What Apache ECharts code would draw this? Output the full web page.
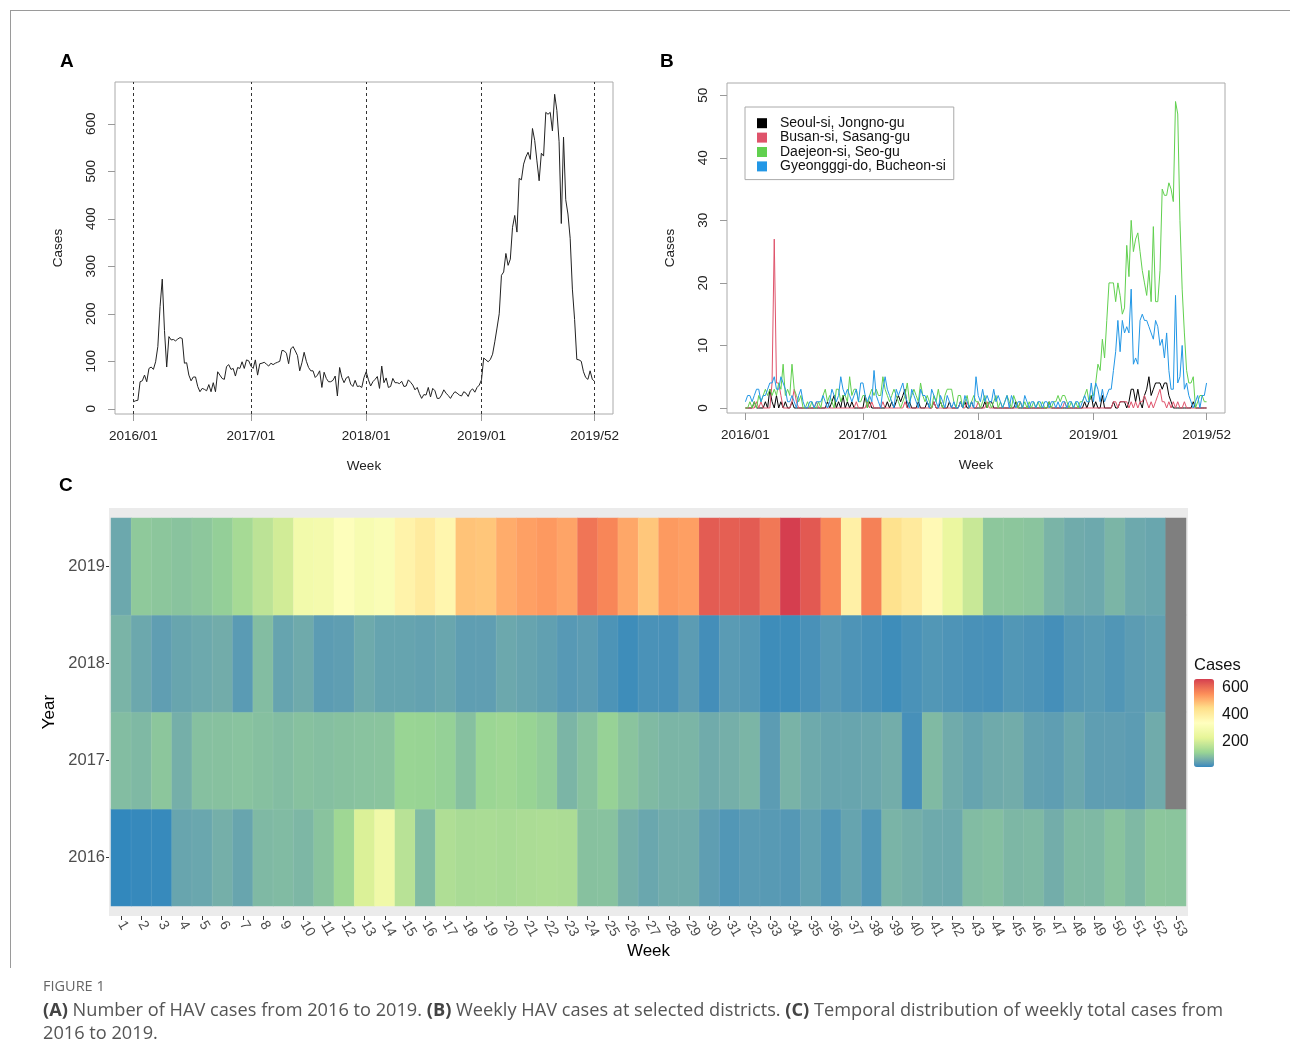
<!DOCTYPE html>
<html><head><meta charset="utf-8">
<script src="https://cdn.jsdelivr.net/npm/echarts@6/dist/echarts.min.js"></script>
<style>html,body{margin:0;padding:0;background:#fff}#c{width:1290px;height:1062px}</style>
</head><body><div id="c"></div>
<script>
// ---------------- DATA ----------------
const years = ['2016', '2017', '2018', '2019'];
const weeks = ['1','2','3','4','5','6','7','8','9','10','11','12','13','14','15','16','17','18','19','20',
  '21','22','23','24','25','26','27','28','29','30','31','32','33','34','35','36','37','38','39','40',
  '41','42','43','44','45','46','47','48','49','50','51','52','53'];

// weekly total HAV cases (panel A and heatmap C)
const cases2016 = [15,17,18,57,59,71,57,85,88,83,99,131,215,273,165,88,152,145,146,143,147,150,148,96,97,71,59,67,67,47,36,43,41,38,51,36,55,36,78,71,64,62,89,93,83,85,69,87,85,99,85,103,101];
const cases2017 = [90,85,103,71,95,96,98,94,90,96,93,96,98,100,123,122,117,95,126,131,122,112,80,97,119,100,87,80,80,66,71,80,45,77,64,57,57,60,69,27,87,66,55,65,68,52,47,60,47,48,45,66];
const cases2018 = [78,61,48,57,62,68,43,90,55,65,45,47,64,55,55,53,58,47,48,61,56,50,40,45,32,22,30,29,45,25,43,38,22,22,29,40,33,28,22,30,36,33,29,27,36,33,26,38,42,35,45,50];
const cases2019 = [61,107,103,99,104,115,141,170,200,281,288,327,302,315,382,407,372,485,482,515,530,540,525,590,565,522,480,538,532,624,620,624,585,662,628,562,390,572,440,410,359,252,188,104,103,100,78,66,62,80,62,58];

// weekly cases at selected districts (panel B)
const seoul2016 = [0,0,0,0,1,0,0,0,0,1,0,3,1,0,2,0,1,0,1,0,0,1,0,0,0,0,0,0,0,0,0,0,0,0,0,0,0,1,0,1,2,0,1,0,2,0,1,0,1,0,0,0,0];
const seoul2017 = [0,2,0,1,0,0,0,0,0,0,0,1,0,1,0,1,2,1,2,3,0,1,0,0,0,1,0,0,0,1,0,0,1,0,0,1,0,0,0,1,0,0,0,0,1,0,1,0,0,1,0,0];
const seoul2018 = [0,0,0,1,0,1,1,0,0,0,0,0,0,0,0,0,0,1,0,0,0,0,0,0,0,0,0,0,0,0,0,0,1,0,0,0,0,0,0,0,0,0,0,0,0,0,0,0,1,0,1,2];
const seoul2019 = [0,1,0,0,2,0,0,0,0,1,0,0,1,1,1,0,1,3,3,1,3,1,0,2,3,5,2,3,4,4,4,3,4,4,2,1,0,0,0,0,0,0,0,0,0,1,0,0,0,0,0,0];

const busan2016 = [0,0,0,0,0,1,0,1,0,0,0,0,4,27,4,4,2,0,0,0,0,1,3,1,0,0,0,0,0,0,0,0,1,0,0,0,0,0,0,0,0,0,0,0,0,0,0,0,0,0,1,0,0];
const busan2017 = [0,0,1,0,1,0,0,0,0,1,0,0,0,0,0,0,0,0,0,1,0,0,0,0,0,0,0,0,0,0,0,0,1,0,0,0,0,0,0,0,0,0,0,0,1,0,0,1,0,0,0,0];
const busan2018 = [1,0,0,0,1,0,0,0,0,0,0,0,0,0,0,0,0,0,0,1,0,0,0,0,0,0,0,0,0,0,0,0,0,0,0,0,0,0,0,1,0,0,0,0,0,0,0,0,0,0,0,0];
const busan2019 = [0,0,0,0,0,0,0,0,0,1,1,0,1,1,1,1,0,1,0,1,0,1,1,2,1,0,1,0,1,2,3,1,1,0,1,0,1,0,1,0,0,1,0,0,0,0,0,0,0,0,0,0];

const daejeon2016 = [0,0,1,0,1,0,2,1,2,3,2,3,2,3,2,4,3,7,2,3,2,7,3,2,1,2,0,0,1,0,1,0,0,1,0,2,3,1,2,1,0,3,3,1,2,2,1,5,2,3,3,1,1];
const daejeon2017 = [2,2,0,2,3,2,3,2,2,5,3,2,1,2,3,2,1,0,1,2,4,1,2,3,2,1,4,2,1,2,1,0,2,1,3,1,0,2,3,3,3,1,0,2,2,0,1,2,0,1,2,1];
const daejeon2018 = [1,0,1,2,0,1,0,1,2,0,1,0,1,2,1,0,2,1,0,1,0,1,0,1,0,1,0,1,0,1,0,0,1,0,1,1,2,1,2,2,1,0,1,0,1,0,1,1,2,3,1,2];
const daejeon2019 = [2,4,7,6,11,8,14,20,20,20,17,20,18,15,16,26,21,30,25,27,28,25,22,20,18,22,17,29,17,17,22,35,34,34,36,35,33,49,47,30,19,12,6,4,4,5,0,1,2,2,1,1];

const bucheon2016 = [1,2,2,1,2,3,3,1,2,2,3,4,4,5,3,3,5,4,3,1,1,2,1,0,2,3,1,0,0,1,1,0,1,1,1,2,1,0,1,3,2,1,2,5,3,2,3,2,1,2,3,1,4];
const bucheon2017 = [4,2,1,2,1,6,2,1,0,3,5,3,2,1,0,3,2,3,4,2,1,0,3,2,1,0,3,2,2,1,0,3,2,1,0,2,1,0,2,1,0,1,0,0,1,0,2,1,0,1,0,5];
const bucheon2018 = [2,1,3,1,2,1,1,3,1,2,1,0,1,2,0,2,1,0,1,1,0,2,1,0,1,1,0,1,1,0,1,1,0,1,1,0,1,0,1,1,0,1,1,0,1,1,0,1,2,1,1,4];
const bucheon2019 = [1,4,3,1,3,1,2,3,3,6,9,14,9,14,12,13,12,19,7,8,7,14,15,14,14,13,12,11,14,13,10,11,8,12,6,3,3,18,4,5,10,3,4,2,1,0,1,2,0,2,2,4];

const districtNames = ['Seoul-si, Jongno-gu', 'Busan-si, Sasang-gu', 'Daejeon-si, Seo-gu', 'Gyeongggi-do, Bucheon-si'];
const districtColors = ['#000000', '#DF536B', '#61D04F', '#2297E6'];

// tick labels
const timeTickIdx = [0, 53, 105, 157, 208];
const timeTickLabels = ['2016/01', '2017/01', '2018/01', '2019/01', '2019/52'];
const casesTicks = [0, 100, 200, 300, 400, 500, 600];
const districtTicks = [0, 10, 20, 30, 40, 50];
const legendTicks = [200, 400, 600];
const spectral7 = ['#3288BD', '#99D594', '#E6F598', '#FFFFBF', '#FEE08B', '#FC8D59', '#D53E4F'];

// ---------------- BUILD ----------------
const yearCases = [cases2016, cases2017, cases2018, cases2019];
const allCases = [].concat(...yearCases);
const seoul = [].concat(seoul2016, seoul2017, seoul2018, seoul2019);
const busan = [].concat(busan2016, busan2017, busan2018, busan2019);
const daejeon = [].concat(daejeon2016, daejeon2017, daejeon2018, daejeon2019);
const bucheon = [].concat(bucheon2016, bucheon2017, bucheon2018, bucheon2019);
const districts = [seoul, busan, daejeon, bucheon];

function rRange(lo, hi) { const d = (hi - lo) * 0.04; return [lo - d, hi + d]; }
const xr = rRange(0, allCases.length - 1);
const cMin = Math.min(...allCases), cMax = Math.max(...allCases);
const yrA = rRange(cMin, cMax);

// Lab interpolation of palette (like ggplot's distiller)
function hex2rgb(h){return [1,3,5].map(i=>parseInt(h.substr(i,2),16));}
function s2l(c){c/=255;return c<=0.04045?c/12.92:Math.pow((c+0.055)/1.055,2.4);}
function l2s(c){c=c<=0.0031308?12.92*c:1.055*Math.pow(c,1/2.4)-0.055;return Math.round(Math.max(0,Math.min(1,c))*255);}
function rgb2lab(rgb){const [r,g,b]=rgb.map(s2l);
  const X=(0.4124*r+0.3576*g+0.1805*b)/0.95047, Y=(0.2126*r+0.7152*g+0.0722*b), Z=(0.0193*r+0.1192*g+0.9505*b)/1.08883;
  const f=t=>t>0.008856?Math.cbrt(t):7.787*t+16/116;
  const fx=f(X),fy=f(Y),fz=f(Z); return [116*fy-16,500*(fx-fy),200*(fy-fz)];}
function lab2rgb(L,a,b){const fy=(L+16)/116,fx=fy+a/500,fz=fy-b/200;
  const fi=t=>t*t*t>0.008856?t*t*t:(t-16/116)/7.787;
  const X=fi(fx)*0.95047,Y=fi(fy),Z=fi(fz)*1.08883;
  const r=3.2406*X-1.5372*Y-0.4986*Z, g=-0.9689*X+1.8758*Y+0.0415*Z, bb=0.0557*X-0.2040*Y+1.0570*Z;
  return 'rgb('+[r,g,bb].map(l2s).join(',')+')';}
const labs = spectral7.map(h=>rgb2lab(hex2rgb(h)));
const scaleColors = [];
for (let i = 0; i < labs.length - 1; i++) {
  for (let k = 0; k < 10; k++) {
    const t = k / 10, p = labs[i], q = labs[i+1];
    scaleColors.push(lab2rgb(p[0]+(q[0]-p[0])*t, p[1]+(q[1]-p[1])*t, p[2]+(q[2]-p[2])*t));
  }
}
scaleColors.push(lab2rgb(...labs[labs.length-1]));

const heatData = [], naData = [];
yearCases.forEach((arr, yi) => {
  weeks.forEach((w, wi) => {
    if (wi < arr.length) heatData.push([wi, yi, arr[wi]]);
    else naData.push([wi, yi, 0]);
  });
});

const RF = '"Liberation Sans", Arial, sans-serif';
const CF = '"Open Sans", sans-serif';
const tickLabelMap = {};
timeTickIdx.forEach((v, i) => tickLabelMap[v] = timeTickLabels[i]);

function rXAxis(grid) {
  return {
    type: 'value', gridIndex: grid, min: xr[0], max: xr[1],
    axisLine: { show: false, onZero: false },
    axisTick: { show: true, customValues: timeTickIdx, length: 7, lineStyle: { color: '#999' } },
    axisLabel: { customValues: timeTickIdx, formatter: v => tickLabelMap[v] || '', fontSize: 13.5, color: '#222', fontFamily: RF, margin: 15 },
    splitLine: { show: false },
    name: 'Week', nameLocation: 'middle', nameGap: 45,
    nameTextStyle: { fontSize: 13.5, color: '#222', fontFamily: RF }
  };
}
function rYAxis(grid, mn, mx, ticks) {
  return {
    type: 'value', gridIndex: grid, min: mn, max: mx,
    axisLine: { show: false, onZero: false },
    axisTick: { show: true, customValues: ticks, length: 7, lineStyle: { color: '#999' } },
    axisLabel: { customValues: ticks, rotate: 90, fontSize: 13.5, color: '#222', fontFamily: RF, margin: 17 },
    splitLine: { show: false },
    name: 'Cases', nameLocation: 'middle', nameGap: 50,
    nameTextStyle: { fontSize: 13.5, color: '#222', fontFamily: RF }
  };
}

const series = [];
series.push({
  type: 'line', xAxisIndex: 0, yAxisIndex: 0, showSymbol: false, symbol: 'none',
  data: allCases.map((v, i) => [i, v]),
  lineStyle: { color: '#222', width: 1 }, itemStyle: { color: '#222' },
  markLine: {
    symbol: 'none', silent: true, label: { show: false },
    lineStyle: { type: [3, 3], color: '#333', width: 1 },
    data: timeTickIdx.map(v => ({ xAxis: v }))
  }
});
districts.forEach((arr, k) => {
  series.push({
    type: 'line', name: districtNames[k], xAxisIndex: 1, yAxisIndex: 1, showSymbol: false, symbol: 'none',
    data: arr.map((v, i) => [i, v]),
    lineStyle: { color: districtColors[k], width: 1 }, itemStyle: { color: districtColors[k] }
  });
});
const heatIdx = series.length;
series.push({
  type: 'heatmap', xAxisIndex: 2, yAxisIndex: 2, data: heatData,
  itemStyle: { borderColor: 'rgba(255,255,255,0.12)', borderWidth: 0.6 },
  emphasis: { disabled: true }
});
series.push({
  type: 'heatmap', xAxisIndex: 2, yAxisIndex: 2, data: naData,
  itemStyle: { color: '#7F7F7F' }, emphasis: { disabled: true }
});

const option = {
  animation: false,
  backgroundColor: '#fff',
  grid: [
    { left: 115, top: 82, width: 498, height: 332, show: true, borderColor: '#aaa', borderWidth: 1, backgroundColor: 'transparent' },
    { left: 727, top: 83, width: 498, height: 330, show: true, borderColor: '#aaa', borderWidth: 1, backgroundColor: 'transparent' },
    { left: 111, top: 518, width: 1075, height: 388 },
    { left: 1194, top: 679, width: 20, height: 88 }
  ],
  xAxis: [
    rXAxis(0), rXAxis(1),
    {
      type: 'category', gridIndex: 2, data: weeks, offset: 10,
      axisLine: { show: false },
      axisTick: { show: true, alignWithLabel: true, length: 4, lineStyle: { color: '#333' } },
      axisLabel: { interval: 0, rotate: -60, fontSize: 14, color: '#4d4d4d', fontFamily: RF, margin: 6 },
      splitLine: { show: false },
      name: 'Week', nameLocation: 'middle', nameGap: 19,
      nameTextStyle: { fontSize: 17, color: '#000', fontFamily: RF, verticalAlign: 'top' }
    },
    { type: 'value', gridIndex: 3, show: false, min: 0, max: 1 }
  ],
  yAxis: [
    rYAxis(0, yrA[0], yrA[1], casesTicks),
    rYAxis(1, -0.8, 51.96, districtTicks),
    {
      type: 'category', gridIndex: 2, data: years, offset: 2,
      axisLine: { show: false },
      axisTick: { show: true, alignWithLabel: true, length: 3, lineStyle: { color: '#333' } },
      axisLabel: { fontSize: 16.5, color: '#4d4d4d', fontFamily: RF, margin: 4 },
      splitLine: { show: false },
      name: 'Year', nameLocation: 'middle', nameGap: 40,
      nameTextStyle: { fontSize: 17, color: '#000', fontFamily: RF }
    },
    {
      type: 'value', gridIndex: 3, min: cMin, max: cMax, position: 'right',
      axisLine: { show: false },
      axisTick: { show: true, inside: true, customValues: legendTicks, length: 4, lineStyle: { color: '#fff' } },
      axisLabel: { customValues: legendTicks, fontSize: 16, color: '#111', fontFamily: RF, margin: 8 },
      splitLine: { show: false }
    }
  ],
  visualMap: {
    type: 'continuous', seriesIndex: heatIdx, min: cMin, max: cMax,
    orient: 'vertical', left: 1194, top: 679, itemWidth: 20, itemHeight: 88,
    padding: 0, calculable: false, hoverLink: false, text: null,
    inRange: { color: scaleColors }
  },
  legend: {
    data: districtNames, orient: 'vertical', left: 745, top: 107,
    icon: 'rect', itemWidth: 10, itemHeight: 10, itemGap: 0,
    padding: [9, 8, 6, 12], borderColor: '#aaa', borderWidth: 1,
    selectedMode: false,
    textStyle: { fontSize: 14, lineHeight: 14.4, color: '#111', fontFamily: RF, padding: [0, 0, 0, 8] }
  },
  series: series,
  graphic: [
    { type: 'rect', z: -1, shape: { x: 109, y: 508, width: 1079, height: 408 }, style: { fill: '#EBEBEB' } },
    { type: 'line', shape: { x1: 10, y1: 10.5, x2: 1290, y2: 10.5 }, style: { stroke: '#9a9a9a', lineWidth: 1 } },
    { type: 'line', shape: { x1: 10.5, y1: 10, x2: 10.5, y2: 968 }, style: { stroke: '#9a9a9a', lineWidth: 1 } },
    { type: 'text', x: 60, y: 62, style: { text: 'A', fontSize: 19, fontWeight: 'bold', fontFamily: RF, fill: '#000', verticalAlign: 'middle' } },
    { type: 'text', x: 660, y: 62, style: { text: 'B', fontSize: 19, fontWeight: 'bold', fontFamily: RF, fill: '#000', verticalAlign: 'middle' } },
    { type: 'text', x: 59, y: 486, style: { text: 'C', fontSize: 19, fontWeight: 'bold', fontFamily: RF, fill: '#000', verticalAlign: 'middle' } },
    { type: 'text', x: 1194, y: 665, style: { text: 'Cases', fontSize: 16.5, fontFamily: RF, fill: '#111', verticalAlign: 'middle' } },
    { type: 'text', x: 43, y: 987, style: { text: 'FIGURE 1', fontSize: 14.5, fontFamily: CF, fill: '#666', verticalAlign: 'middle' } },
    { type: 'text', x: 43, y: 1022, style: {
        text: '{b|(A)} Number of HAV cases from 2016 to 2019. {b|(B)} Weekly HAV cases at selected districts. {b|(C)} Temporal distribution of weekly total cases from\n2016 to 2019.',
        fontSize: 18.2, lineHeight: 23, fontFamily: CF, fill: '#555', verticalAlign: 'middle',
        rich: { b: { fontWeight: 'bold', fontSize: 18.2, lineHeight: 23, fontFamily: CF, fill: '#444' } }
    } }
  ]
};
const chart = echarts.init(document.getElementById('c'), null, { renderer: 'canvas' });
chart.setOption(option);
</script></body></html>
